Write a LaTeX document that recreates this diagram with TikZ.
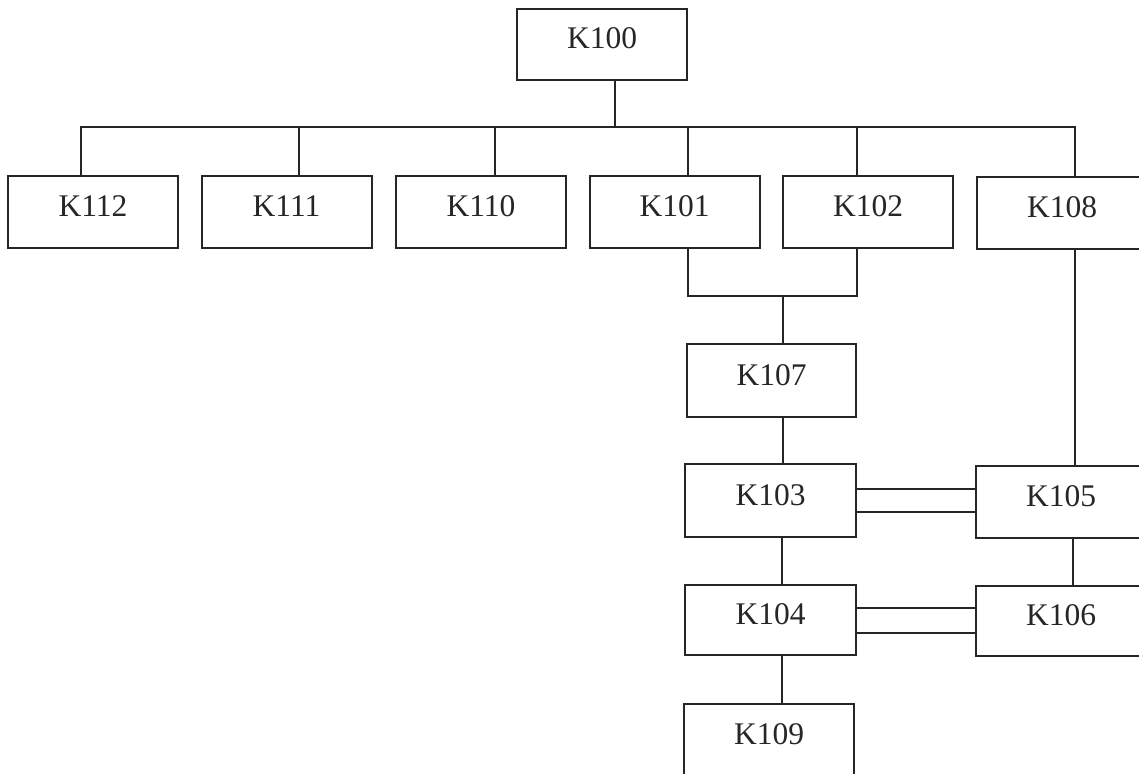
\documentclass[tikz,border=0pt]{standalone}
\usepackage{fontspec}
\setmainfont{Liberation Serif}
\usetikzlibrary{calc}
\definecolor{ink}{HTML}{262626}
\begin{document}
\begin{tikzpicture}[x=1pt,y=-1pt,
  line width=2pt, draw=ink,
  kbox/.style={draw=ink, line width=2pt, rectangle, minimum width=170pt, minimum height=72pt,
    inner sep=0pt, text height=21pt, text depth=12pt, text=ink,
    font=\fontsize{31.5}{36}\selectfont},
  link/.style={draw=ink, line width=2pt}]
\useasboundingbox (0,0) rectangle (1139,773);
\clip (0,0) rectangle (1139,773);
% nodes
\node[kbox, minimum height=71pt] (K100) at (602,44.5) {K100};
\node[kbox] (K112) at (93,212) {K112};
\node[kbox] (K111) at (286.5,212) {K111};
\node[kbox] (K110) at (481,212) {K110};
\node[kbox] (K101) at (674.5,212) {K101};
\node[kbox] (K102) at (868,212) {K102};
\node[kbox] (K108) at (1062,213) {K108};
\node[kbox, minimum width=169pt, minimum height=73pt] (K107) at (771.5,380.5) {K107};
\node[kbox, minimum width=171pt, minimum height=73pt] (K103) at (770.5,500.5) {K103};
\node[kbox] (K105) at (1061,502) {K105};
\node[kbox, minimum width=171pt, minimum height=70pt] (K104) at (770.5,620) {K104};
\node[kbox, minimum height=70pt] (K106) at (1061,621) {K106};
\node[kbox] (K109) at (769,740) {K109};
% ports
\coordinate (p100) at ($(K100.south)+(13,0)$);
\coordinate (p112) at ($(K112.north)+(-12,0)$);
\coordinate (p111) at ($(K111.north)+(12.5,0)$);
\coordinate (p110) at ($(K110.north)+(14,0)$);
\coordinate (p101t) at ($(K101.north)+(13.5,0)$);
\coordinate (p102t) at ($(K102.north)+(-11,0)$);
\coordinate (p108t) at ($(K108.north)+(13,0)$);
\coordinate (p101b) at ($(K101.south)+(13.5,0)$);
\coordinate (p102b) at ($(K102.south)+(-11,0)$);
\coordinate (p107b) at ($(K107.south)+(11.5,0)$);
\coordinate (p103b) at ($(K103.south)+(11.5,0)$);
\coordinate (p104b) at ($(K104.south)+(11.5,0)$);
\coordinate (p108b) at ($(K108.south)+(13,0)$);
\coordinate (p105b) at ($(K105.south)+(12,0)$);
\coordinate (p103u) at ($(K103.east)+(0,-11.5)$);
\coordinate (p103d) at ($(K103.east)+(0,11.5)$);
\coordinate (p104u) at ($(K104.east)+(0,-12)$);
\coordinate (p104d) at ($(K104.east)+(0,13)$);
% bus from K100
\coordinate (bus) at (615,127);
\draw[link] (p100) -- (p100 |- bus);
\draw[link] (p112) |- (bus) -| (p108t);
\draw[link] (p111 |- bus) -- (p111);
\draw[link] (p110 |- bus) -- (p110);
\draw[link] (p101t |- bus) -- (p101t);
\draw[link] (p102t |- bus) -- (p102t);
% K101, K102 -> K107
\coordinate (j) at (783,296);
\draw[link] (p101b) |- (j) -| (p102b);
\draw[link] (j) -- (j |- K107.north);
% vertical chain
\draw[link] (p107b) -- (p107b |- K103.north);
\draw[link] (p103b) -- (p103b |- K104.north);
\draw[link] (p104b) -- (p104b |- K109.north);
\draw[link] (p108b) -- (p108b |- K105.north);
\draw[link] (p105b) -- (p105b |- K106.north);
% double links
\draw[link] (p103u) -- (p103u -| K105.west);
\draw[link] (p103d) -- (p103d -| K105.west);
\draw[link] (p104u) -- (p104u -| K106.west);
\draw[link] (p104d) -- (p104d -| K106.west);
\end{tikzpicture}
\end{document}
